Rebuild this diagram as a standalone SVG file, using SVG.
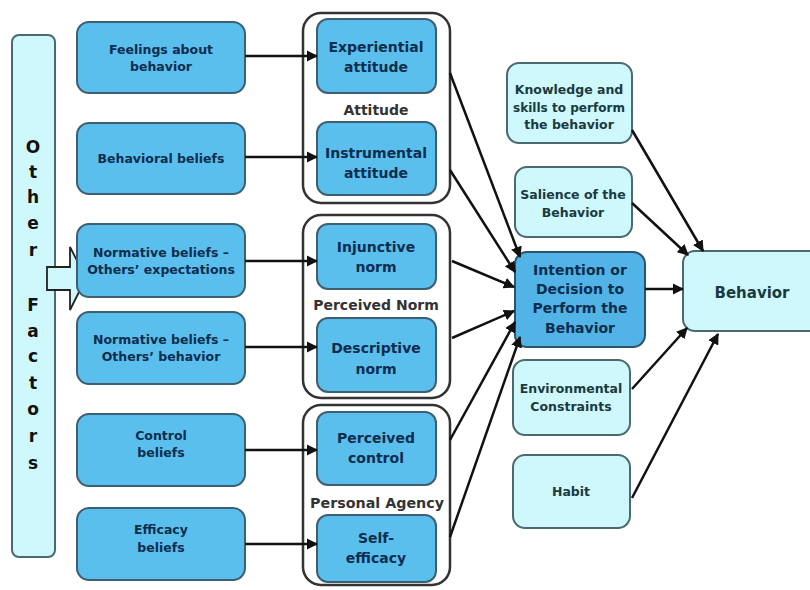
<svg xmlns="http://www.w3.org/2000/svg" width="810" height="590" viewBox="0 0 810 590">
<defs>
<marker id="ah" viewBox="0 0 10 10" refX="9" refY="5" markerWidth="4.5" markerHeight="4.5" orient="auto" markerUnits="strokeWidth">
<path d="M0,0 L10,5 L0,10 z" fill="#111"/>
</marker>
<style>
text{font-family:"DejaVu Sans","Liberation Sans",Arial,sans-serif;font-weight:bold;text-anchor:middle;}
.src rect{fill:#5bbfee;stroke:#3d5f70;stroke-width:2;}
.src text{font-size:12.5px;fill:#0d2d4d;}
.grp{fill:#fff;stroke:#333;stroke-width:2.5;}
.in rect{fill:#5bbfee;stroke:#3d5f70;stroke-width:2;}
.in text{font-size:14px;fill:#0d2d4d;}
.lbl{font-size:14px;fill:#333;}
.lt rect{fill:#cef8fc;stroke:#4a6a70;stroke-width:2;}
.lt text{font-size:12.5px;fill:#1a3a40;}
.con line{stroke:#111;stroke-width:2.5;marker-end:url(#ah);}
</style>
</defs>
<rect width="810" height="590" fill="#fff"/>

<g id="other-factors">
<rect x="12" y="35" width="43" height="522" rx="7" fill="#cef8fc" stroke="#4a6a70" stroke-width="2"/>
<g font-size="17" fill="#111">
<text x="33" y="153">O</text>
<text x="33" y="178">t</text>
<text x="33" y="203">h</text>
<text x="33" y="229">e</text>
<text x="33" y="256">r</text>
<text x="33" y="311">F</text>
<text x="33" y="337">a</text>
<text x="33" y="362">c</text>
<text x="33" y="389">t</text>
<text x="33" y="415">o</text>
<text x="33" y="442">r</text>
<text x="33" y="469">s</text>
</g>
<path d="M47,267 L70,267 L70,247 L86,278 L70,310 L70,290 L47,290 Z" fill="#cef8fc" stroke="#222" stroke-width="1.8"/>
</g>

<g id="feelings" class="src"><rect x="77" y="22" width="168" height="71" rx="12"/><text x="161" y="54">Feelings about</text><text x="161" y="71">behavior</text></g>
<g id="behavioral-beliefs" class="src"><rect x="77" y="123" width="168" height="71" rx="12"/><text x="161" y="163">Behavioral beliefs</text></g>
<g id="normative-expectations" class="src"><rect x="77" y="224" width="168" height="73" rx="12"/><text x="161" y="257">Normative beliefs –</text><text x="161" y="274">Others’ expectations</text></g>
<g id="normative-behavior" class="src"><rect x="77" y="312" width="168" height="72" rx="12"/><text x="161" y="344">Normative beliefs –</text><text x="161" y="361">Others’ behavior</text></g>
<g id="control-beliefs" class="src"><rect x="77" y="414" width="168" height="72" rx="12"/><text x="161" y="440">Control</text><text x="161" y="457">beliefs</text></g>
<g id="efficacy-beliefs" class="src"><rect x="77" y="508" width="168" height="72" rx="12"/><text x="161" y="534">Efficacy</text><text x="161" y="552">beliefs</text></g>

<g id="attitude">
<rect class="grp" x="303" y="13" width="147" height="190" rx="18"/>
<text class="lbl" x="376" y="115">Attitude</text>
</g>
<g id="experiential" class="in"><rect x="317" y="19" width="119" height="74" rx="11"/><text x="376" y="52">Experiential</text><text x="376" y="72">attitude</text></g>
<g id="instrumental" class="in"><rect x="317" y="122" width="119" height="73" rx="11"/><text x="376" y="158">Instrumental</text><text x="376" y="178">attitude</text></g>

<g id="perceived-norm">
<rect class="grp" x="303" y="215" width="147" height="183" rx="18"/>
<text class="lbl" x="376" y="310">Perceived Norm</text>
</g>
<g id="injunctive" class="in"><rect x="317" y="224" width="119" height="65" rx="11"/><text x="376" y="252">Injunctive</text><text x="376" y="272">norm</text></g>
<g id="descriptive" class="in"><rect x="317" y="318" width="119" height="74" rx="11"/><text x="376" y="353">Descriptive</text><text x="376" y="374">norm</text></g>

<g id="personal-agency">
<rect class="grp" x="303" y="405" width="147" height="180" rx="18"/>
<text class="lbl" x="377" y="508" textLength="134" lengthAdjust="spacingAndGlyphs">Personal Agency</text>
</g>
<g id="perceived-control" class="in"><rect x="317" y="412" width="119" height="73" rx="11"/><text x="376" y="443">Perceived</text><text x="376" y="463">control</text></g>
<g id="self-efficacy" class="in"><rect x="317" y="515" width="119" height="67" rx="11"/><text x="376" y="543">Self-</text><text x="376" y="563">efficacy</text></g>

<g id="intention"><rect x="515" y="252" width="130" height="95" rx="12" fill="#52b3e6" stroke="#2e5268" stroke-width="2"/>
<g font-size="14" fill="#0d2d4d"><text x="580" y="275">Intention or</text><text x="580" y="294">Decision to</text><text x="580" y="313">Perform the</text><text x="580" y="333">Behavior</text></g></g>

<g id="knowledge" class="lt"><rect x="507" y="63" width="125" height="80" rx="12"/><text x="569" y="94">Knowledge and</text><text x="569" y="112" textLength="112" lengthAdjust="spacingAndGlyphs">skills to perform</text><text x="569" y="129">the behavior</text></g>
<g id="salience" class="lt"><rect x="515" y="167" width="117" height="70" rx="12"/><text x="573" y="199">Salience of the</text><text x="573" y="217">Behavior</text></g>
<g id="environmental" class="lt"><rect x="513" y="360" width="117" height="75" rx="12"/><text x="571" y="393">Environmental</text><text x="571" y="411">Constraints</text></g>
<g id="habit" class="lt"><rect x="513" y="455" width="117" height="73" rx="12"/><text x="571" y="496">Habit</text></g>

<g id="behavior" class="lt"><rect x="683" y="251" width="140" height="80" rx="12"/><text x="752" y="298" style="font-size:15px">Behavior</text></g>

<g id="connectors" class="con">
<line x1="245" y1="56" x2="317" y2="56"/>
<line x1="245" y1="157" x2="317" y2="157"/>
<line x1="245" y1="261" x2="317" y2="261"/>
<line x1="245" y1="347" x2="317" y2="347"/>
<line x1="245" y1="450" x2="317" y2="450"/>
<line x1="245" y1="544" x2="317" y2="544"/>
<line x1="450" y1="73" x2="520" y2="257"/>
<line x1="450" y1="170" x2="515" y2="272"/>
<line x1="452" y1="261" x2="514" y2="287"/>
<line x1="452" y1="338" x2="514" y2="311"/>
<line x1="450" y1="440" x2="515" y2="322"/>
<line x1="450" y1="537" x2="520" y2="337"/>
<line x1="645" y1="289" x2="683" y2="289"/>
<line x1="632" y1="130" x2="703" y2="251"/>
<line x1="632" y1="203" x2="688" y2="255"/>
<line x1="632" y1="389" x2="687" y2="328"/>
<line x1="632" y1="498" x2="718" y2="334"/>
</g>
</svg>
